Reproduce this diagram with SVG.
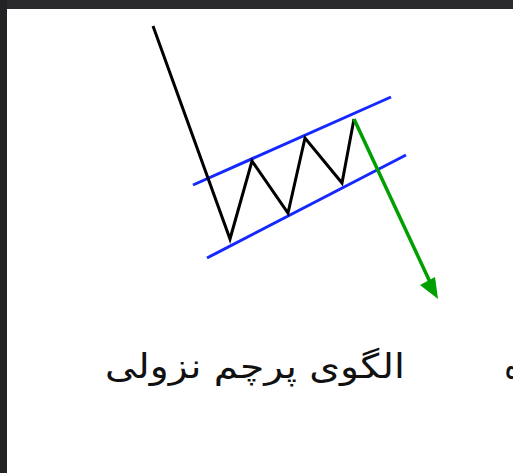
<svg xmlns="http://www.w3.org/2000/svg" width="513" height="473" viewBox="0 0 513 473">
<style>
.blk{fill:none;stroke:#000;stroke-width:3;stroke-linejoin:miter}
.blu{fill:none;stroke:#1428ff;stroke-width:3}
.grn{fill:none;stroke:#00a000;stroke-width:3.5}
.lbl{font-family:"DejaVu Sans","Noto Sans",sans-serif;font-size:34px;fill:#111}
</style>
<rect x="0" y="0" width="513" height="473" fill="#fff"/>
<rect x="0" y="0" width="513" height="9" fill="#2b2b2e"/>
<rect x="0" y="0" width="7" height="473" fill="#232325"/>
<g id="channel">
<line class="blu" x1="193" y1="185" x2="391" y2="97"/>
<line class="blu" x1="207" y1="258" x2="406" y2="155"/>
</g>
<g id="price">
<polyline class="blk" points="153,26 230,239 252,161 288,213 305,138 342,183 354,119"/>
</g>
<g id="connectors">
<line class="grn" x1="354" y1="119" x2="430" y2="282"/>
<polygon points="438,299 420,285 435,277" fill="#00a000"/>
</g>
<g id="label">
<text class="lbl" x="255" y="378" text-anchor="middle" direction="rtl" textLength="300" lengthAdjust="spacingAndGlyphs">الگوی پرچم نزولی</text>
<text class="lbl" x="504" y="378">ه</text>
</g>
</svg>
